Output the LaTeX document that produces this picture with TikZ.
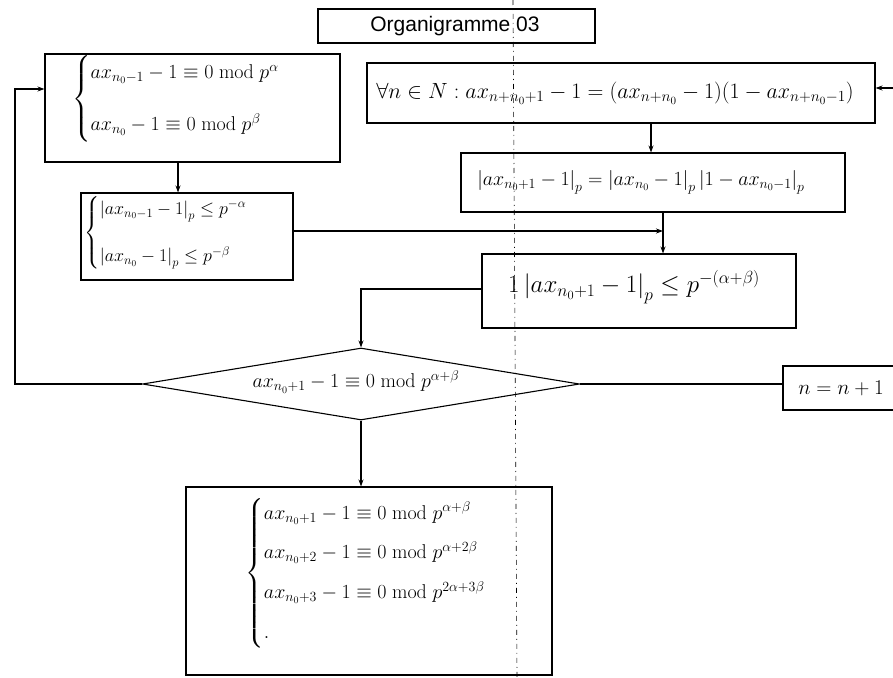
\RequirePackage{fix-cm}
\documentclass[tikz,border=0pt]{standalone}
\usepackage{amsmath}
\usepackage{fontspec}
\newfontfamily\arialf{Liberation Sans}
\usetikzlibrary{arrows.meta,shapes.geometric}
\begin{document}
\begin{tikzpicture}[x=1pt,y=-1pt,line width=1.1pt,
  box/.style={draw,rectangle,inner sep=0pt},
  txt/.style={inner sep=0pt},
  arr/.style={-{Stealth[length=7pt,width=5pt]}},
  fold/.style={line width=0.6pt,dash pattern=on 5pt off 4pt on 1pt off 4pt},
  fa/.style={font=\fontsize{18}{21}\selectfont},
  fb/.style={font=\fontsize{20}{24}\selectfont},
  fc/.style={font=\fontsize{22}{26}\selectfont},
  fd/.style={font=\fontsize{25}{30}\selectfont},
  ff/.style={font=\fontsize{21}{25}\selectfont}]
\useasboundingbox (0,0) rectangle (893,677);
\clip (0,0) rectangle (893,677);
\fill[white] (0,0) rectangle (893,677);
% boxes
\node[box,minimum width=277pt,minimum height=34pt] (title) at (456.5,26) {};
\node[box,minimum width=295pt,minimum height=108pt] (L1) at (192.5,108) {};
\node[box,minimum width=508pt,minimum height=60pt] (F) at (621,93) {};
\node[box,minimum width=212pt,minimum height=87pt] (L2) at (187,236.5) {};
\node[box,minimum width=384pt,minimum height=59pt] (A) at (653,182.5) {};
\node[box,minimum width=314pt,minimum height=74pt] (B) at (639,291) {};
\node[draw,diamond,minimum width=437pt,minimum height=72pt,inner sep=0pt,aspect=6] (D) at (361,384) {};
\node[box,minimum width=120pt,minimum height=44pt] (N) at (843,388) {};
\node[box,minimum width=366pt,minimum height=188pt] (R) at (369,581) {};
% texts
\node[txt,font=\arialf\fontsize{21}{25}\selectfont] (tT) at (455,26) {Organigramme 03};
\node[txt,fb] (tL1) at (186,99) {$\begin{cases} ax_{n_0-1}-1\equiv 0\bmod p^{\alpha}\\[23pt] ax_{n_0}-1\equiv 0\bmod p^{\beta}\end{cases}$};
\node[txt,fc] (tF) at (615,93) {$\forall n\in N: ax_{n+n_0+1}-1=(ax_{n+n_0}-1)(1-ax_{n+n_0-1})$};
\node[txt,fa] (tL2) at (175,233) {$\begin{cases} \left|ax_{n_0-1}-1\right|_p\le p^{-\alpha}\\[22pt] \left|ax_{n_0}-1\right|_p\le p^{-\beta}\end{cases}$};
\node[txt,fb] (tA) at (641,182) {$\left|ax_{n_0+1}-1\right|_p=\left|ax_{n_0}-1\right|_p\left|1-ax_{n_0-1}\right|_p$};
\node[txt,fd] (tB) at (634,287) {$1\left|ax_{n_0+1}-1\right|_p\le p^{-(\alpha+\beta)}$};
\node[txt,fb] (tD) at (356,382) {$ax_{n_0+1}-1\equiv 0\bmod p^{\alpha+\beta}$};
\node[txt,ff] (tN) at (841,388) {$n=n+1$};
\node[txt,fb,anchor=west] (tR) at (245,573) {$\begin{cases} ax_{n_0+1}-1\equiv 0\bmod p^{\alpha+\beta}\\[11pt] ax_{n_0+2}-1\equiv 0\bmod p^{\alpha+2\beta}\\[11pt] ax_{n_0+3}-1\equiv 0\bmod p^{2\alpha+3\beta}\\[11pt] .\end{cases}$};
% coordinates
\coordinate (c1) at (178,0);
\coordinate (fbk) at (15,89);
\coordinate (rs) at (893,88);
\coordinate (c2) at (651,0);
\coordinate (c3) at (663,0);
\coordinate (c4) at (663,231);
\coordinate (c5) at (361,289);
% connectors
\draw[arr] (L1.south -| c1) -- (L2.north -| c1);
\draw[arr] (D.west) -| (fbk) -- (L1.west |- fbk);
\draw[arr] (rs) -- (F.east |- rs);
\draw[arr] (F.south -| c2) -- (A.north -| c2);
\draw[arr] (A.south -| c3) -- (B.north -| c3);
\draw[arr] (L2.east |- c4) -- (c4);
\draw[arr] (B.west |- c5) -| (D.north);
\draw (D.east) -- (N.west |- D.east);
\draw[arr] (D.south) -- (R.north -| D.south);
% fold line
\coordinate (fo1) at (513,0);
\coordinate (fo2) at (517,677);
\draw[fold] (fo1) -- (fo2);
\end{tikzpicture}
\end{document}
